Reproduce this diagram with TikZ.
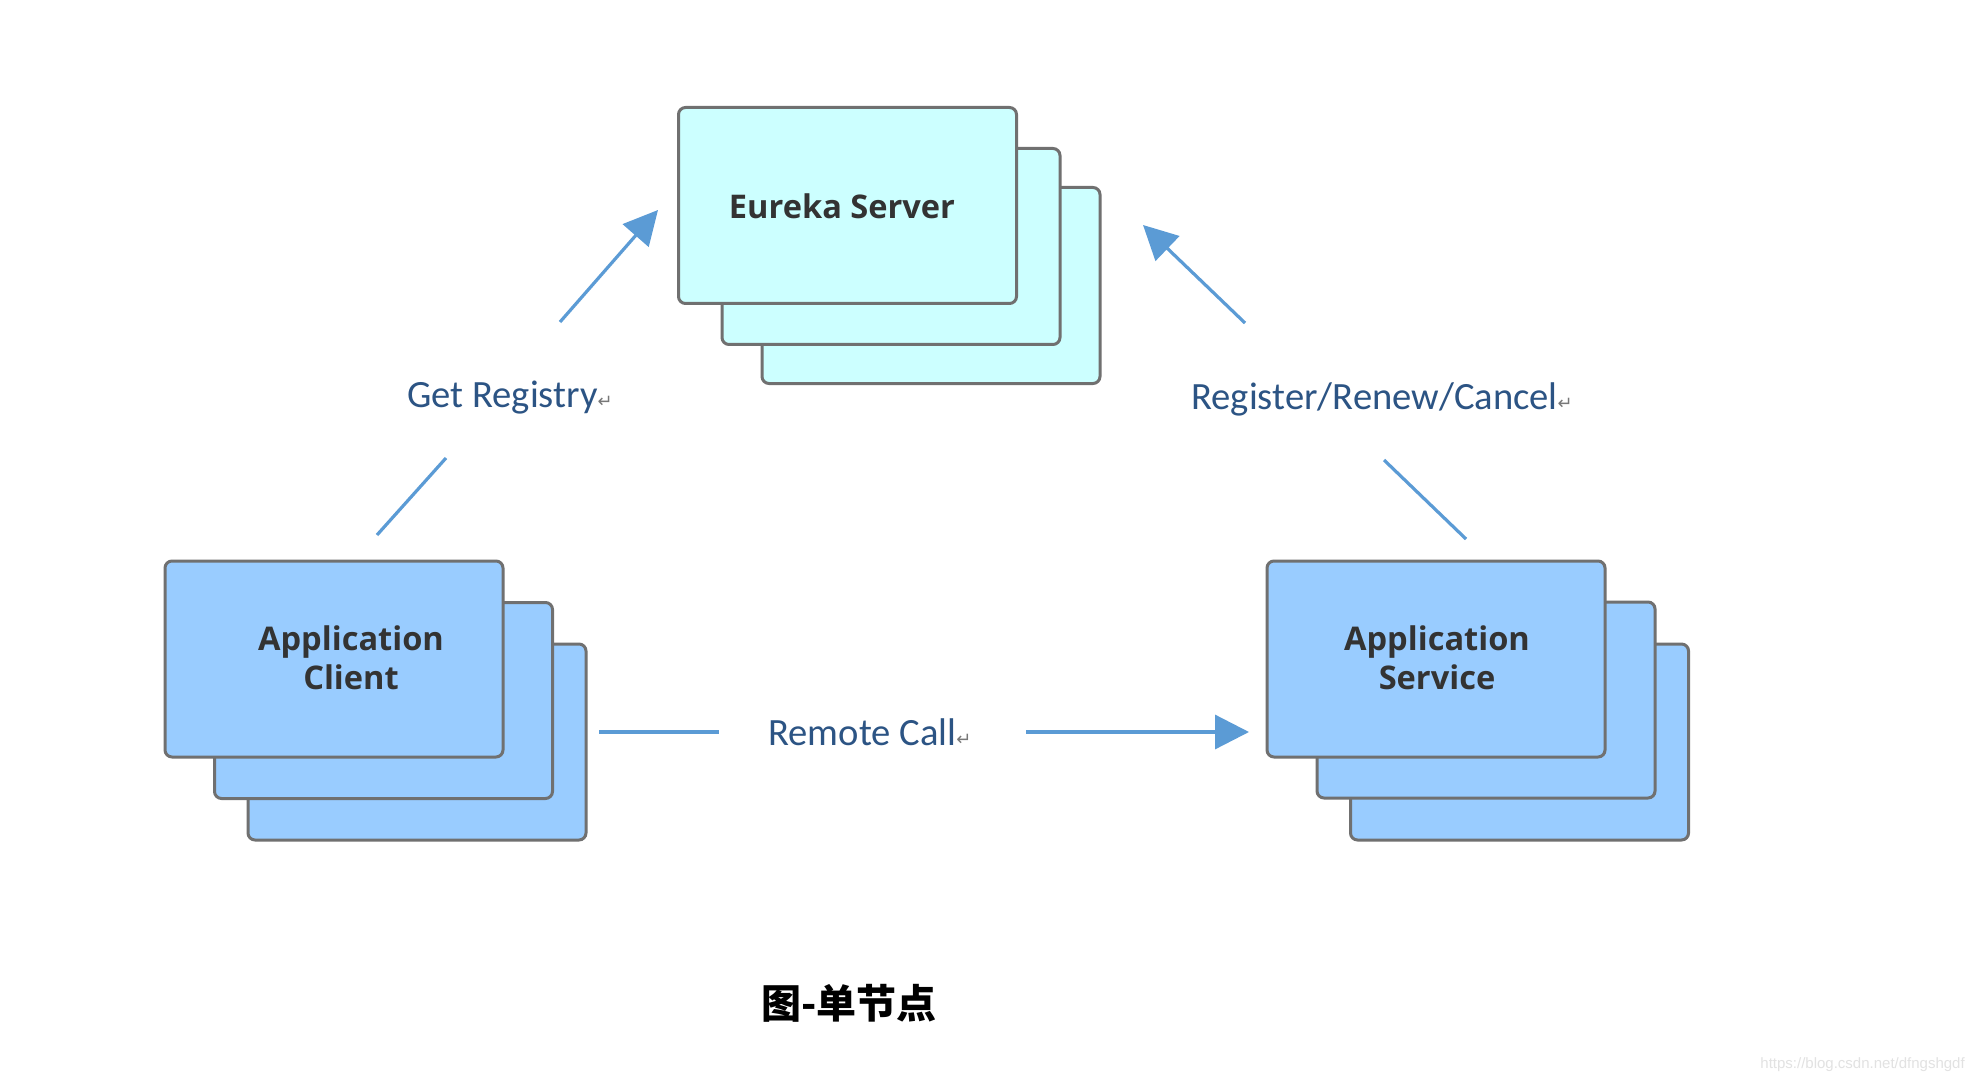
\documentclass[tikz,border=0pt]{standalone}
\usepackage{fontspec}
\setmainfont{Carlito}
\newfontfamily\boxfont{Open Sans}
\newfontfamily\cjkfont{Noto Sans CJK SC}
\newfontfamily\symfont{DejaVu Sans}
\newfontfamily\wmfont{Liberation Sans}
\usetikzlibrary{arrows.meta}
\definecolor{serverfill}{RGB}{204,255,255}
\definecolor{appfill}{RGB}{153,204,255}
\definecolor{boxborder}{RGB}{112,112,112}
\definecolor{boxtextcol}{RGB}{51,51,51}
\definecolor{arrowblue}{RGB}{91,155,213}
\definecolor{labelblue}{RGB}{44,84,132}
\definecolor{retgray}{RGB}{120,120,120}
\definecolor{wmgray}{RGB}{226,226,226}
\newcommand\retmark{{\symfont\fontsize{9pt}{9pt}\selectfont\color{retgray}↵}}
\tikzset{
  stackbox/.style={draw=boxborder, line width=1.5pt, rounded corners=3.5pt,
    minimum width=169pt, minimum height=98pt, inner sep=0pt},
  serverbox/.style={stackbox, fill=serverfill},
  appbox/.style={stackbox, fill=appfill},
  boxtext/.style={font=\boxfont\bfseries\fontsize{16.3pt}{19.5pt}\selectfont,
    text=boxtextcol, align=center, inner sep=0pt},
  lbl/.style={font=\fontsize{19.3pt}{22pt}\selectfont, text=labelblue, inner sep=0pt},
  conn/.style={draw=arrowblue, line width=1.6pt},
  connarrow/.style={conn, -{Triangle[length=17pt,width=17pt]}},
}
\begin{document}
\begin{tikzpicture}[x=0.5pt,y=-0.5pt]
\useasboundingbox[fill=white] (0,0) rectangle (1984,1080);

% Eureka Server stack
\node[serverbox] (es3) at (931,285.5) {};
\node[serverbox] (es2) at (891,246.5) {};
\node[serverbox] (es1) at (847.5,205.5) {};
\node[boxtext] (estext) at (842,206) {Eureka Server};

% Application Client stack
\node[appbox] (ac3) at (417,742) {};
\node[appbox] (ac2) at (383.5,700.5) {};
\node[appbox] (ac1) at (334,659) {};
\node[boxtext] (actext) at (351,658) {Application\\Client};

% Application Service stack
\node[appbox] (as3) at (1519.5,742) {};
\node[appbox] (as2) at (1486,700) {};
\node[appbox] (as1) at (1436,659) {};
\node[boxtext] (astext) at (1437,658) {Application\\Service};

% labels
\node[lbl, anchor=base west] (getreg) at (407,408) {Get Registry\retmark};
\node[lbl, anchor=base west] (regren) at (1191,409) {Register/Renew/Cancel\retmark};
\node[lbl, anchor=base west] (remote) at (768,745) {Remote Call\retmark};

% connector end points
\coordinate (g1) at (377,535);
\coordinate (g2) at (446,458);
\coordinate (g3) at (560,322);
\coordinate (g4) at (658,210);
\coordinate (r1) at (1466,539);
\coordinate (r2) at (1384,460);
\coordinate (r3) at (1245,323);
\coordinate (r4) at (1143,225);
\coordinate (c1) at (599,732);
\coordinate (c2) at (719,732);
\coordinate (c3) at (1026,732);
\coordinate (c4) at (1249,732);

\draw[conn] (g1) -- (g2);
\draw[connarrow] (g3) -- (g4);
\draw[conn] (r1) -- (r2);
\draw[connarrow] (r3) -- (r4);
\draw[conn] (c1) -- (c2);
\draw[connarrow] (c3) -- (c4);

% caption
\node[font=\cjkfont\bfseries\fontsize{20pt}{24pt}\selectfont, text=black, inner sep=0pt] (caption) at (849,1003) {图-单节点};

% watermark
\node[font=\wmfont\fontsize{7.5pt}{9pt}\selectfont, text=wmgray, inner sep=0pt, anchor=base west] (wm) at (1760,1068) {https://blog.csdn.net/dfngshgdf};
\end{tikzpicture}
\end{document}
